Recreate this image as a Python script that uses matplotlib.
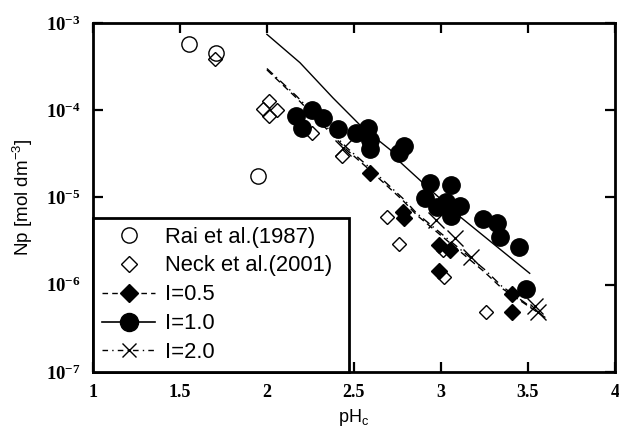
import matplotlib
matplotlib.use("Agg")
import matplotlib.pyplot as plt
from matplotlib.ticker import FixedLocator, NullLocator

plt.rcParams['mathtext.fontset'] = 'custom'
plt.rcParams['mathtext.rm'] = 'Liberation Serif:bold'
plt.rcParams['mathtext.bf'] = 'Liberation Serif:bold'
plt.rcParams['mathtext.sf'] = 'Liberation Sans'

# ---- data ----
rai_ph = [1.55, 1.71, 1.95]
rai_np = [5.7e-4, 4.5e-4, 1.76e-5]

neck_ph = [1.70, 2.01, 1.98, 2.06, 2.01, 2.26, 2.43, 2.69, 2.76, 3.01, 3.02, 3.26]
neck_np = [3.9e-4, 1.28e-4, 1.03e-4, 1.01e-4, 8.6e-5, 5.5e-5, 3.0e-5, 6.0e-6, 2.9e-6, 2.5e-6, 1.23e-6, 4.9e-7]

i05_ph = [2.59, 2.78, 2.79, 2.99, 3.05, 2.99, 3.41, 3.41]
i05_np = [1.91e-5, 6.8e-6, 5.8e-6, 2.86e-6, 2.5e-6, 1.42e-6, 7.8e-7, 4.9e-7]

i10_ph = [2.17, 2.26, 2.20, 2.32, 2.41, 2.51, 2.58, 2.59, 2.59, 2.76, 2.79,
          2.94, 3.06, 2.91, 3.03, 2.98, 3.11, 3.06, 3.24, 3.32, 3.34, 3.45, 3.49]
i10_np = [8.6e-5, 1.01e-4, 6.3e-5, 8.1e-5, 6.1e-5, 5.5e-5, 6.3e-5, 4.6e-5, 3.6e-5, 3.2e-5, 3.9e-5,
          1.47e-5, 1.39e-5, 9.9e-6, 8.9e-6, 7.8e-6, 8.0e-6, 6.1e-6, 5.7e-6, 5.1e-6, 3.5e-6, 2.7e-6, 8.9e-7]

i20_ph = [2.44, 2.97, 3.08, 3.17, 3.54, 3.56]
i20_np = [3.7e-5, 5.5e-6, 3.4e-6, 2.1e-6, 5.7e-7, 4.9e-7]

# model curves
fit10_ph = [2.00, 2.19, 2.38, 2.55, 2.71, 2.76, 3.11, 3.51]
fit10_np = [7.4e-4, 3.5e-4, 1.38e-4, 6.3e-5, 3.5e-5, 2.6e-5, 6.0e-6, 1.35e-6]

fit05_ph = [2.00, 2.17, 2.46, 2.59, 2.78, 2.86, 3.25, 3.35, 3.60]
fit05_np = [2.9e-4, 1.38e-4, 3.5e-5, 2.07e-5, 9.3e-6, 6.3e-6, 1.4e-6, 9.1e-7, 4.2e-7]

fit20_ph = [2.00, 2.17, 2.46, 2.59, 2.78, 2.86, 3.25, 3.35, 3.58]
fit20_np = [3.0e-4, 1.45e-4, 3.7e-5, 2.2e-5, 9.8e-6, 6.6e-6, 1.5e-6, 9.6e-7, 4.5e-7]

xticks = [1, 1.5, 2, 2.5, 3, 3.5, 4]
xticklabels = ['1', '1.5', '2', '2.5', '3', '3.5', '4']
yticks = [1e-7, 1e-6, 1e-5, 1e-4, 1e-3]
yticklabels = [r'$\mathbf{10^{-7}}$', r'$\mathbf{10^{-6}}$', r'$\mathbf{10^{-5}}$',
               r'$\mathbf{10^{-4}}$', r'$\mathbf{10^{-3}}$']
legend_labels = ['Rai et al.(1987)', 'Neck et al.(2001)', 'I=0.5', 'I=1.0', 'I=2.0']

# ---- figure ----
fig = plt.figure(figsize=(6.19, 4.32), dpi=100)
ax = fig.add_axes([0.150, 0.139, 0.8435, 0.808])

ax.set_yscale('log')
ax.set_xlim(1, 4)
ax.set_ylim(1e-7, 1e-3)

ax.plot(rai_ph, rai_np, linestyle='none', marker='o', ms=11, mfc='none',
        mec='black', mew=1.0, zorder=3)
ax.plot(neck_ph, neck_np, linestyle='none', marker='D', ms=7.5, mfc='none',
        mec='black', mew=1.0, zorder=3)

# model curves
ax.plot(fit05_ph, fit05_np, color='black', lw=1.0, linestyle=(0, (5, 3)), zorder=2)
ax.plot(fit10_ph, fit10_np, color='black', lw=1.0, linestyle='-', zorder=2)
ax.plot(fit20_ph, fit20_np, color='black', lw=1.0, linestyle=(0, (6, 3, 1, 3)), zorder=2)

ax.plot(i05_ph, i05_np, linestyle='none', marker='D', ms=8, color='black', zorder=4)
ax.plot(i10_ph, i10_np, linestyle='none', marker='o', ms=12.5, color='black', zorder=4)
ax.plot(i20_ph, i20_np, linestyle='none', marker='x', ms=11, mew=1.0, color='black', zorder=4)

# legend proxies
h1, = ax.plot([], [], linestyle='none', marker='o', ms=11, mfc='none', mec='black', mew=1.0)
h2, = ax.plot([], [], linestyle='none', marker='D', ms=8, mfc='none', mec='black', mew=1.0)
h3, = ax.plot([], [], color='black', lw=1.0, linestyle=(0, (4, 3)), marker='D', ms=9)
h4, = ax.plot([], [], color='black', lw=1.2, linestyle='-', marker='o', ms=13)
h5, = ax.plot([], [], color='black', lw=1.0, linestyle=(0, (4, 3, 1, 3)), marker='x', ms=10, mew=1.0)

leg = ax.legend([h1, h2, h3, h4, h5], legend_labels,
                loc='lower left', bbox_to_anchor=(0, 0, 0.49, 0.447), mode='expand',
                borderaxespad=0,
                frameon=True, fancybox=False, edgecolor='black', framealpha=1,
                prop={'family': 'Liberation Sans', 'size': 15.8},
                handlelength=2.45, handletextpad=0.45, labelspacing=0.36,
                borderpad=0.4)
leg.get_frame().set_linewidth(2.0)
leg.set_zorder(5)

# ticks
ax.xaxis.set_major_locator(FixedLocator(xticks))
ax.set_xticklabels(xticklabels, fontfamily='Liberation Serif', fontweight='bold', fontsize=13)
ax.yaxis.set_major_locator(FixedLocator(yticks))
ax.yaxis.set_minor_locator(NullLocator())
ax.set_yticklabels(yticklabels, fontsize=13.5)
ax.tick_params(axis='both', which='major', direction='in', length=7, width=1.6,
               top=True, right=True, pad=9)

for s in ax.spines.values():
    s.set_linewidth(2.0)

ax.set_xlabel(r'pH$_{\mathsf{c}}$', fontfamily='Liberation Sans', fontsize=13, labelpad=4)
ax.set_ylabel(r'Np [mol dm$^{\mathsf{-3}}$]', fontfamily='Liberation Sans', fontsize=13.5, labelpad=8)

fig.savefig('out.png', dpi=100)
